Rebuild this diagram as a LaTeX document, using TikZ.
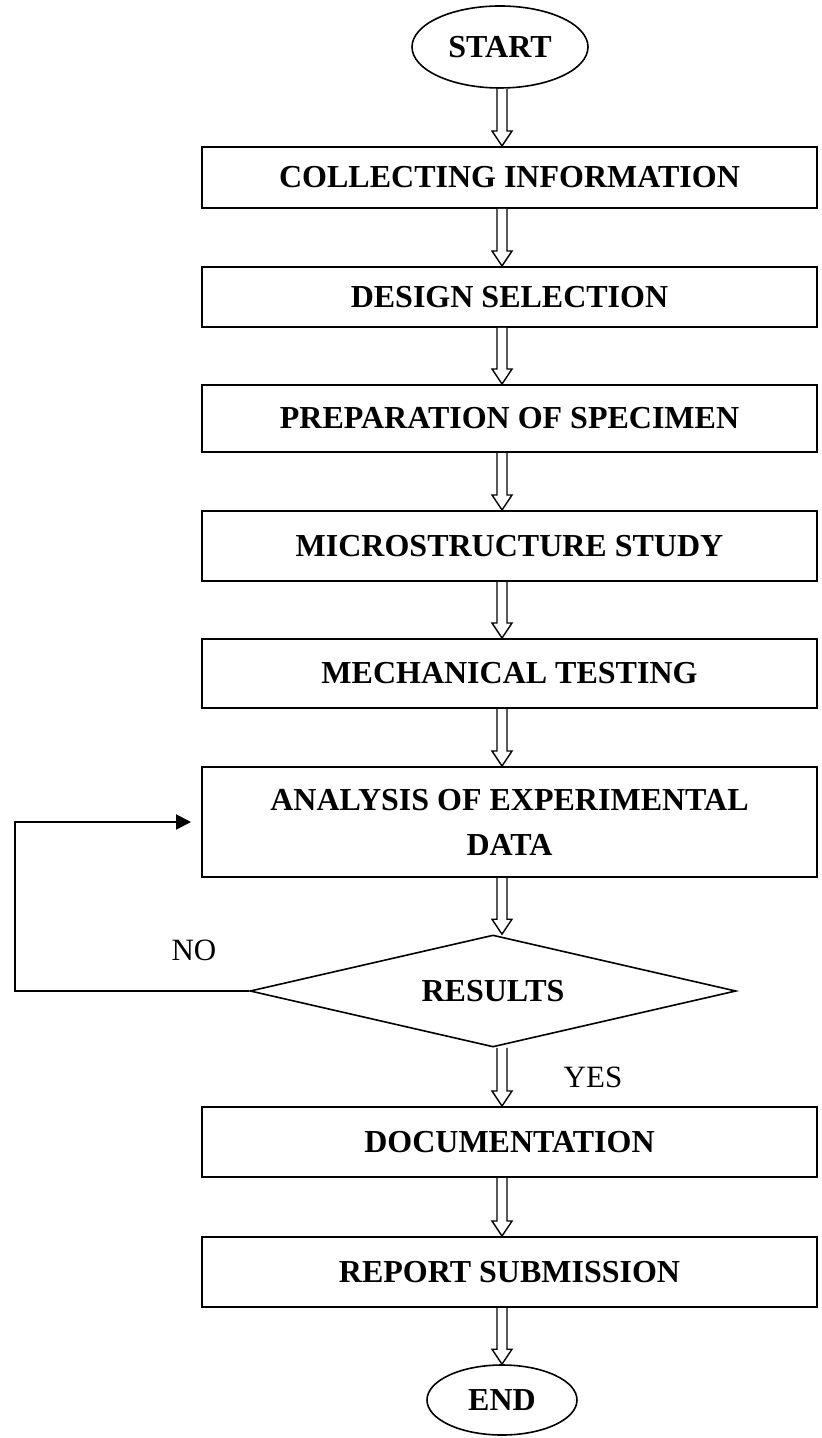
\documentclass[tikz,border=0pt]{standalone}
\usepackage{fontspec}
\setmainfont{Liberation Serif}
\usetikzlibrary{shapes.geometric,arrows.meta,calc,positioning}

% hollow block arrow from the bottom of one node to the top of the next
\newcommand{\hollowarrow}[2]{%
  \draw[hollow] ($(#1.south -| spine)+(-5,0)$) -- ($(#2.north -| spine)+(-5,-15)$)
    -- ++(-5,0) -- (#2.north -| spine) -- ++(10,-15) -- ++(-5,0)
    -- ($(#1.south -| spine)+(5,0)$);}

\begin{document}
\begin{tikzpicture}[
    x=0.5pt, y=-0.5pt,
    process/.style={rectangle, draw, line width=1pt, minimum width=307.5pt, inner sep=0pt, align=center, font=\fontsize{16}{22.5}\selectfont\bfseries},
    terminal/.style={ellipse, draw, line width=0.8pt, inner sep=0pt, font=\fontsize{16}{19}\selectfont\bfseries},
    decision/.style={diamond, draw, line width=0.8pt, aspect=1.6, minimum width=243pt, minimum height=56pt, inner sep=0pt, font=\fontsize{16}{19}\selectfont\bfseries},
    hollow/.style={draw, line width=0.7pt, fill=white, line join=miter},
    arrow/.style={-{Triangle[length=7.5pt, width=7.5pt]}, line width=1pt, shorten >=5pt},
    tag/.style={inner sep=0pt, font=\fontsize{15.5}{18}\selectfont}
]
    \useasboundingbox (0,0) rectangle (821,1438);
    \coordinate (spine) at (502,0);

    \node[terminal, minimum width=88pt, minimum height=41pt] (start) at (500,47) {START};

    \node[process, minimum height=30.5pt] (collect) at (509.5,177.5) {COLLECTING INFORMATION};
    \node[process, minimum height=30pt] (design) at (509.5,297) {DESIGN SELECTION};
    \node[process, minimum height=33.5pt] (prep) at (509.5,418.5) {PREPARATION OF SPECIMEN};
    \node[process, minimum height=35pt] (micro) at (509.5,546) {MICROSTRUCTURE STUDY};
    \node[process, minimum height=34.5pt] (mech) at (509.5,673.5) {MECHANICAL TESTING};
    \node[process, minimum height=55pt] (analysis) at (509.5,822) {ANALYSIS OF EXPERIMENTAL\\DATA};

    \node[decision] (results) at (493,991) {RESULTS};

    \node[process, minimum height=35pt] (doc) at (509.5,1142) {DOCUMENTATION};
    \node[process, minimum height=35pt] (report) at (509.5,1272) {REPORT SUBMISSION};

    \node[terminal, minimum width=75pt, minimum height=35pt] (end) at (502,1400) {END};

    \node[tag] (no) at (194,950) {NO};
    \node[tag] (yes) at (593,1077) {YES};

    \foreach \a/\b in {start/collect, collect/design, design/prep, prep/micro, micro/mech,
        mech/analysis, analysis/results, results/doc, doc/report, report/end}
        {\hollowarrow{\a}{\b}}

    \coordinate (loop) at (15,991);
    \draw[arrow] (results.west) -- (loop) |- (analysis.west);
\end{tikzpicture}
\end{document}
